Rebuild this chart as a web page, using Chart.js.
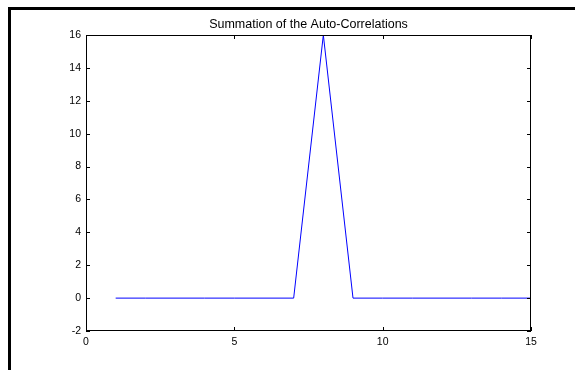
<!DOCTYPE html>
<html>
<head>
<meta charset="utf-8">
<script src="https://cdn.jsdelivr.net/npm/chart.js@4"></script>
<style>
    body { margin: 0; background: #fff; }
    #frame { position: absolute; left: 8px; top: 7px; right: 0; bottom: 0;
             border-left: 3px solid #000; border-top: 3px solid #000; }
    #wrap { position: absolute; left: 0; top: 0; width: 575px; height: 370px; }
</style>
</head>
<body>
<div id="frame"></div>
<div id="wrap"><canvas id="plot" width="575" height="370"></canvas></div>
<script>
var lags = [1, 2, 3, 4, 5, 6, 7, 8, 9, 10, 11, 12, 13, 14, 15];
var sums = [0, 0, 0, 0, 0, 0, 0, 16, 0, 0, 0, 0, 0, 0, 0];
var xTicks = [0, 5, 10, 15];
var yTicks = [-2, 0, 2, 4, 6, 8, 10, 12, 14, 16];

var points = lags.map(function (v, i) {
    return { x: v, y: sums[i] };
});

// matlab style box with small inward ticks on all four sides
var boxTicks = {
    id: 'boxTicks',
    afterDraw: function (chart) {
        var c = chart.ctx, a = chart.chartArea;
        var xs = chart.scales.x, ys = chart.scales.y;
        var len = 4;
        c.save();
        c.strokeStyle = '#000';
        c.lineWidth = 1;
        c.strokeRect(a.left + 0.5, a.top + 0.5, a.right - a.left - 1, a.bottom - a.top - 1);
        c.beginPath();
        xTicks.forEach(function (t) {
            var px = Math.round(xs.getPixelForValue(t)) + 0.5;
            c.moveTo(px, a.bottom); c.lineTo(px, a.bottom - len);
            c.moveTo(px, a.top); c.lineTo(px, a.top + len);
        });
        yTicks.forEach(function (t) {
            var py = Math.round(ys.getPixelForValue(t)) + 0.5;
            c.moveTo(a.left, py); c.lineTo(a.left + len, py);
            c.moveTo(a.right, py); c.lineTo(a.right - len, py);
        });
        c.stroke();
        c.restore();
    }
};

var ctx = document.getElementById('plot').getContext('2d');
var chart = new Chart(ctx, {
    type: 'line',
    data: {
        datasets: [{
            data: points,
            borderColor: '#0000ff',
            borderWidth: 1,
            pointRadius: 0,
            tension: 0,
            fill: false
        }]
    },
    options: {
        responsive: false,
        animation: false,
        layout: { padding: { left: 0, right: 44, top: 0, bottom: 0 } },
        plugins: {
            legend: { display: false },
            tooltip: { enabled: false },
            title: {
                display: true,
                text: 'Summation of the Auto-Correlations',
                fullSize: false,
                color: '#000',
                font: { family: 'Liberation Sans, Arial', size: 12.5, weight: 'normal' },
                padding: { top: 17.5, bottom: 2.5 }
            }
        },
        scales: {
            x: {
                type: 'linear',
                min: 0,
                max: 15,
                afterBuildTicks: function (s) {
                    s.ticks = xTicks.map(function (v) { return { value: v }; });
                },
                afterFit: function (s) { s.height = 39; },
                grid: { display: false, drawTicks: false },
                border: { display: false },
                ticks: {
                    color: '#000',
                    padding: 5,
                    maxRotation: 0,
                    autoSkip: false,
                    font: { family: 'Liberation Sans, Arial', size: 10.5 }
                }
            },
            y: {
                min: -2,
                max: 16,
                afterBuildTicks: function (s) {
                    s.ticks = yTicks.map(function (v) { return { value: v }; });
                },
                afterFit: function (s) { s.width = 86; },
                grid: { display: false, drawTicks: false },
                border: { display: false },
                ticks: {
                    color: '#000',
                    padding: 5,
                    autoSkip: false,
                    font: { family: 'Liberation Sans, Arial', size: 10.5 }
                }
            }
        }
    },
    plugins: [boxTicks]
});
</script>
</body>
</html>
